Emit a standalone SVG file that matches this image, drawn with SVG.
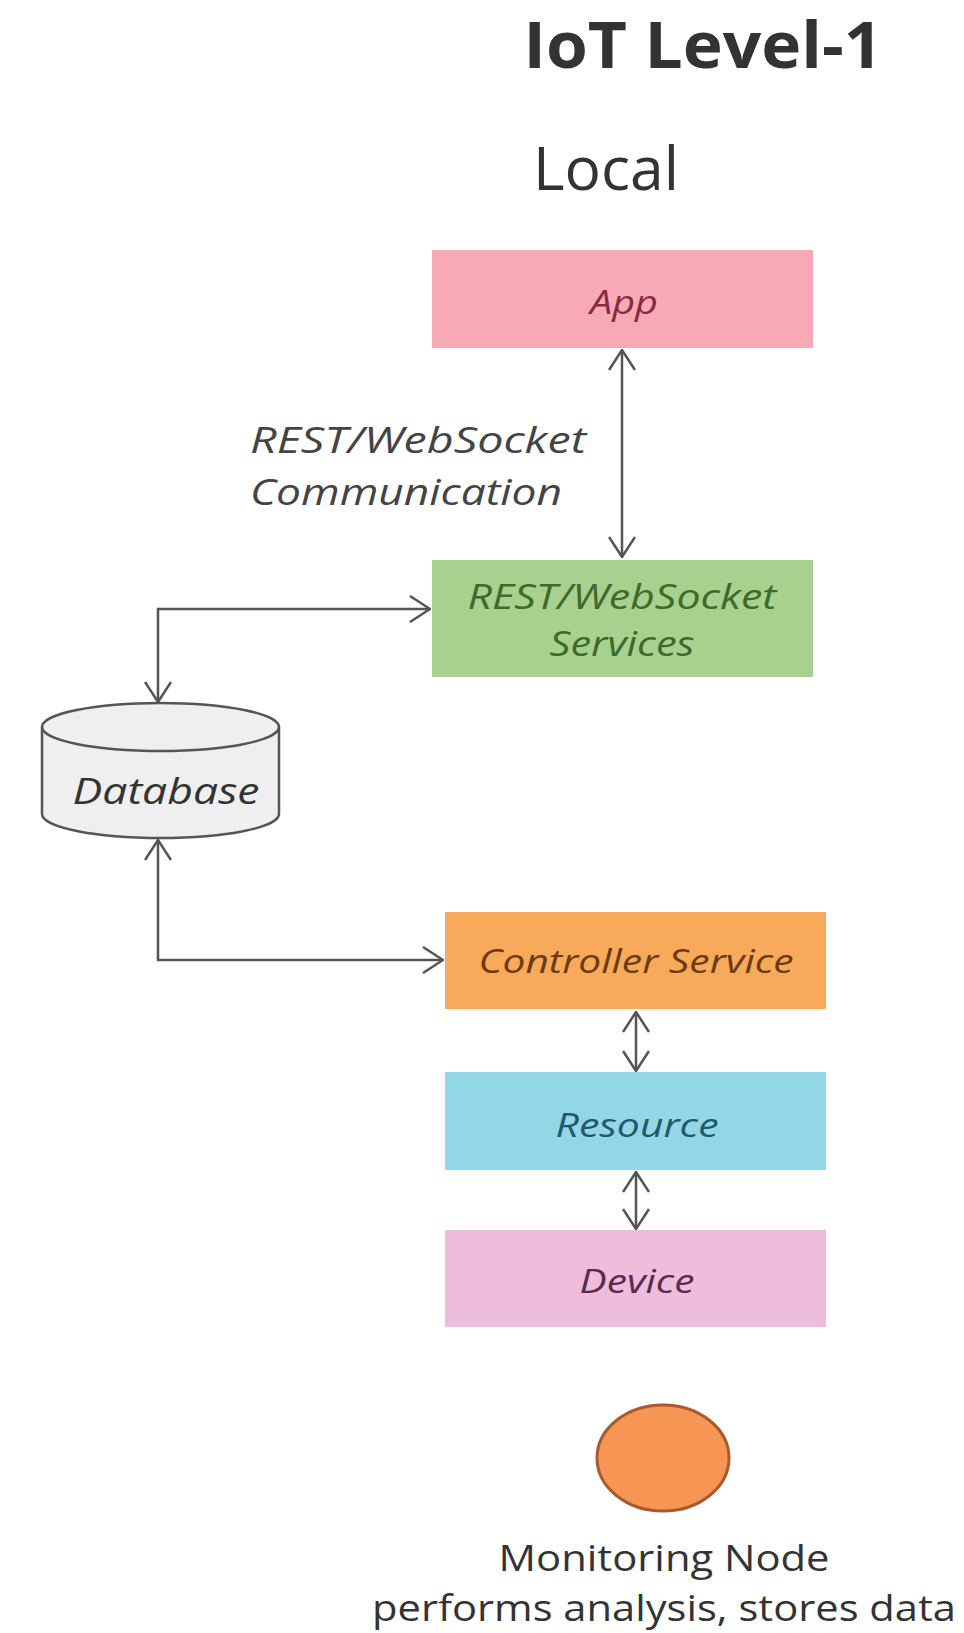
<svg xmlns="http://www.w3.org/2000/svg" width="964" height="1633" viewBox="0 0 964 1633">
<style>
  .lbl { font-family: "Open Sans", "Liberation Sans", sans-serif; font-style: italic; text-anchor: middle; }
  .plain { font-family: "Open Sans", "Liberation Sans", sans-serif; fill: #333; text-anchor: middle; }
  .conn { fill: none; stroke: #555; stroke-width: 2.5; }
</style>
<defs>
  <marker id="arr" viewBox="0 0 22 28" refX="21" refY="14" markerUnits="userSpaceOnUse" markerWidth="22" markerHeight="28" orient="auto-start-reverse">
    <path d="M1,1 L21,14 L1,27" fill="none" stroke="#555" stroke-width="2.5"/>
  </marker>
</defs>
<rect width="964" height="1633" fill="#ffffff"/>
<text x="703" y="68" class="plain" font-weight="bold" font-size="64" fill="#222" textLength="359" lengthAdjust="spacingAndGlyphs">IoT Level-1</text>
<text x="606" y="190" class="plain" font-size="60" textLength="146" lengthAdjust="spacingAndGlyphs">Local</text>

<g id="connectors">
  <path class="conn" d="M622,350 V557" marker-start="url(#arr)" marker-end="url(#arr)"/>
  <path class="conn" d="M430,609 H158 V702" marker-start="url(#arr)" marker-end="url(#arr)"/>
  <path class="conn" d="M158,840 V960 H443" marker-start="url(#arr)" marker-end="url(#arr)"/>
  <path class="conn" d="M636,1012 V1071" marker-start="url(#arr)" marker-end="url(#arr)"/>
  <path class="conn" d="M636,1172 V1229" marker-start="url(#arr)" marker-end="url(#arr)"/>
</g>

<g id="comm-label">
  <text x="418" y="453" class="lbl" font-size="36" fill="#444" textLength="336" lengthAdjust="spacingAndGlyphs">REST/WebSocket</text>
  <text x="406" y="505" class="lbl" font-size="36" fill="#444" textLength="312" lengthAdjust="spacingAndGlyphs">Communication</text>
</g>

<g id="app">
  <rect x="432" y="250" width="381" height="98" fill="#f7a9b6"/>
  <text x="624" y="314" class="lbl" font-size="32" fill="#8a2a40" textLength="68" lengthAdjust="spacingAndGlyphs">App</text>
</g>

<g id="services">
  <rect x="432" y="560" width="381" height="117" fill="#a9d18e"/>
  <text x="622" y="609" class="lbl" font-size="34" fill="#3d6b2c" textLength="309" lengthAdjust="spacingAndGlyphs">REST/WebSocket</text>
  <text x="622" y="656" class="lbl" font-size="34" fill="#3d6b2c" textLength="145" lengthAdjust="spacingAndGlyphs">Services</text>
</g>

<g id="database">
  <path d="M42,727 A118.5,24 0 0 1 279,727 V814 A118.5,24 0 0 1 42,814 Z" fill="#efefef" stroke="#555" stroke-width="2.5"/>
  <path d="M42,727 A118.5,24 0 0 0 279,727" fill="none" stroke="#555" stroke-width="2.5"/>
  <text x="166" y="804" class="lbl" font-size="36" fill="#333" textLength="187" lengthAdjust="spacingAndGlyphs">Database</text>
</g>

<g id="controller">
  <rect x="445" y="912" width="381" height="97" fill="#f9a95a"/>
  <text x="636" y="973" class="lbl" font-size="32" fill="#6b3b12" textLength="315" lengthAdjust="spacingAndGlyphs">Controller Service</text>
</g>

<g id="resource">
  <rect x="445" y="1072" width="381" height="98" fill="#93d6e6"/>
  <text x="637" y="1137" class="lbl" font-size="32" fill="#1f5a6c" textLength="163" lengthAdjust="spacingAndGlyphs">Resource</text>
</g>

<g id="device">
  <rect x="445" y="1230" width="381" height="97" fill="#efbddc"/>
  <text x="637" y="1293" class="lbl" font-size="32" fill="#5a2a52" textLength="115" lengthAdjust="spacingAndGlyphs">Device</text>
</g>

<g id="monitoring-node">
  <ellipse cx="663" cy="1458" rx="66" ry="53" fill="#f79654" stroke="#a85a2c" stroke-width="3"/>
  <text x="664" y="1571" class="plain" font-size="36" fill="#444" textLength="331" lengthAdjust="spacingAndGlyphs">Monitoring Node</text>
  <text x="664" y="1621" class="plain" font-size="36" fill="#444" textLength="584" lengthAdjust="spacingAndGlyphs">performs analysis, stores data</text>
</g>
</svg>
